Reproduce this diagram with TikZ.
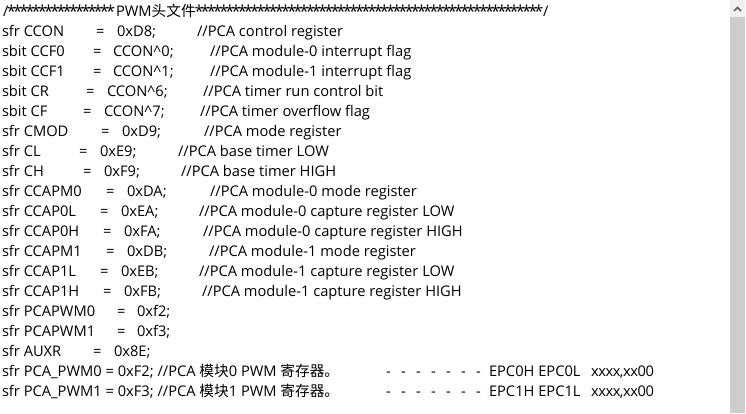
\documentclass[tikz,border=0pt]{standalone}
\usepackage{fontspec}
\setmainfont{Open Sans}
\newfontfamily\cjk{Noto Sans CJK SC}
\definecolor{sbgray}{HTML}{CDCDCD}
\definecolor{sbtop}{HTML}{F0F0F0}
\definecolor{caretc}{HTML}{606060}
\tikzset{
  txt/.style={anchor=base west, inner sep=0pt, outer sep=0pt, font=\fontsize{14.67}{17}\selectfont, text=black},
  star/.style={anchor=base, inner sep=0pt, outer sep=0pt, font=\fontsize{16.5}{18}\selectfont, text=black},
}
\newcommand{\cl}[8]{%
  \node[txt] (#1a) at (2,#2) {#3};
  \node[txt] (#1b) at (#4,#2) {=};
  \node[txt] (#1c) at (#5,#2) {#6};
  \node[txt] (#1d) at (#7,#2) {#8};
}
\newcommand{\clb}[6]{%
  \node[txt] (#1a) at (2,#2) {#3};
  \node[txt] (#1b) at (#4,#2) {=};
  \node[txt] (#1c) at (#5,#2) {#6};
}
\begin{document}
\begin{tikzpicture}[x=1pt,y=-1pt]
\useasboundingbox[fill=white] (0,0) rectangle (746,413);
% scrollbar
\fill[sbgray] (730,17) rectangle (745,413);
\fill[sbtop] (730,0) rectangle (745,17);
\draw[caretc, line width=1.6pt] (734,11) -- (737.5,7.5) -- (741,11);
% header
\node[txt] (h1) at (3,16.7) {/};
\foreach \i in {0,...,16}{
  \node[star] (sa\i) at (11.5+6.2*\i,17.5) {*};
}
\node[txt] (h3) at (116,16.7) {PWM{\cjk 头文件}};
\foreach \i in {0,...,55}{
  \node[star] (sb\i) at (199.1+6.18*\i,17.5) {*};
}
\node[txt] (h5) at (543,16.7) {/};
% lines
\cl{l1}{36.7}{sfr CCON}{96}{117}{0xD8;}{197}{//PCA control register}
\cl{l2}{56.7}{sbit CCF0}{93}{113}{CCON\textasciicircum0;}{210}{//PCA module-0 interrupt flag}
\cl{l3}{76.7}{sbit CCF1}{93}{113}{CCON\textasciicircum1;}{210}{//PCA module-1 interrupt flag}
\cl{l4}{96.7}{sbit CR}{86}{107}{CCON\textasciicircum6;}{203}{//PCA timer run control bit}
\cl{l5}{116.7}{sbit CF}{83}{104}{CCON\textasciicircum7;}{200}{//PCA timer overflow flag}
\cl{l6}{136.7}{sfr CMOD}{101}{122}{0xD9;}{204}{//PCA mode register}
\cl{l7}{156.7}{sfr CL}{79}{100}{0xE9;}{178}{//PCA base timer LOW}
\cl{l8}{176.7}{sfr CH}{83}{104}{0xF9;}{181}{//PCA base timer HIGH}
\cl{l9}{196.7}{sfr CCAPM0}{106}{127}{0xDA;}{210}{//PCA module-0 mode register}
\cl{l10}{216.7}{sfr CCAP0L}{100}{121}{0xEA;}{199}{//PCA module-0 capture register LOW}
\cl{l11}{236.7}{sfr CCAP0H}{103}{124}{0xFA;}{203}{//PCA module-0 capture register HIGH}
\cl{l12}{256.7}{sfr CCAPM1}{106}{127}{0xDB;}{209}{//PCA module-1 mode register}
\cl{l13}{276.7}{sfr CCAP1L}{100}{121}{0xEB;}{199}{//PCA module-1 capture register LOW}
\cl{l14}{296.7}{sfr CCAP1H}{103}{124}{0xFB;}{202}{//PCA module-1 capture register HIGH}
\clb{l15}{316.7}{sfr PCAPWM0}{117}{137}{0xf2;}
\clb{l16}{336.7}{sfr PCAPWM1}{117}{137}{0xf3;}
\clb{l17}{356.7}{sfr AUXR}{93}{114}{0x8E;}
% PWM lines
\node[txt] (l18a) at (2,376.7) {sfr PCA\_PWM0 = 0xF2; //PCA {\cjk 模块}0 PWM {\cjk 寄存器。}};
\node[txt] (l19a) at (2,396.7) {sfr PCA\_PWM1 = 0xF3; //PCA {\cjk 模块}1 PWM {\cjk 寄存器。}};
\foreach \i in {0,...,6}{
  \node[txt] (d18\i) at (386+15*\i,376.7) {-};
  \node[txt] (d19\i) at (386+15*\i,396.7) {-};
}
\node[txt] (l18e) at (489,376.7) {EPC0H EPC0L};
\node[txt] (l19e) at (489,396.7) {EPC1H EPC1L};
\node[txt] (l18f) at (591,376.7) {\addfontfeature{LetterSpace=-3}xxxx,xx00};
\node[txt] (l19f) at (591,396.7) {\addfontfeature{LetterSpace=-3}xxxx,xx00};
\end{tikzpicture}
\end{document}
